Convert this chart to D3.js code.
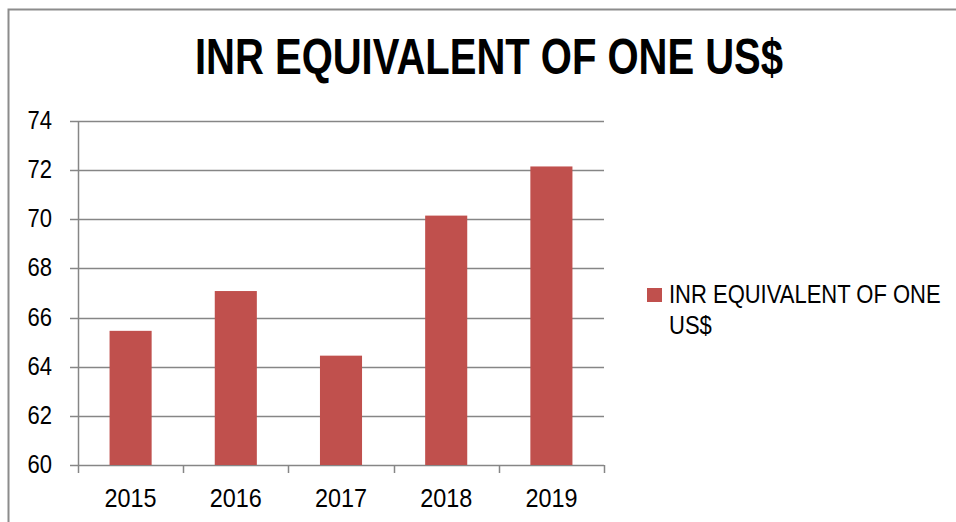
<!DOCTYPE html>
<html>
<head>
<meta charset="utf-8">
<script src="https://cdn.jsdelivr.net/npm/d3@7"></script>
<style>
  body { margin: 0; background: #fff; }
  text { font-family: "Liberation Sans Narrow", "Arial Narrow", "Liberation Sans", sans-serif; fill: #000; }
</style>
</head>
<body>
<div id="chart"></div>
<script>
var years = ["2015", "2016", "2017", "2018", "2019"];
var inrPerUsd = [65.46, 67.08, 64.45, 70.15, 72.15];
var yTicks = [60, 62, 64, 66, 68, 70, 72, 74];
var seriesName = "INR EQUIVALENT OF ONE US$";
var legendLines = ["INR EQUIVALENT OF ONE", "US$"];

var W = 956, H = 522;
var margin = { top: 121, left: 78, right: 352, bottom: 57 };
var width = W - margin.left - margin.right,
    height = H - margin.top - margin.bottom;

var svg = d3.select("#chart").append("svg")
  .attr("width", W).attr("height", H);

// narrow look: squeeze the text horizontally
function narrowText(parent, x, y, sx, size, anchor, str, bold) {
  var t = parent.append("g")
    .attr("transform", "translate(" + x + "," + y + ") scale(" + sx + ",1)")
    .append("text")
    .attr("text-anchor", anchor || "start")
    .style("font-size", size + "px")
    .text(str);
  if (bold) t.style("font-weight", "bold");
  return t;
}

// outer chart frame
svg.append("rect")
  .attr("x", 8.5).attr("y", 9.5)
  .attr("width", W + 20).attr("height", H + 20)
  .attr("fill", "none").attr("stroke", "#8c8c8c").attr("stroke-width", 2);

narrowText(svg, 489, 74, 0.8, 50, "middle", seriesName, true);

var g = svg.append("g")
  .attr("transform", "translate(" + margin.left + "," + margin.top + ")");

var x = d3.scaleBand().domain(years).range([0, width]).paddingInner(0.6).paddingOuter(0.3);
var xb = d3.scaleBand().domain(years).range([0, width]);
var y = d3.scaleLinear().domain([60, 74]).range([height, 0]);

// gridlines
g.selectAll(".grid").data(yTicks).enter().append("line")
  .attr("x1", -8).attr("x2", width)
  .attr("y1", function(d) { return Math.round(y(d)) + 0.5; })
  .attr("y2", function(d) { return Math.round(y(d)) + 0.5; })
  .attr("stroke", "#868686").attr("stroke-width", 1.5);

// bars
g.selectAll(".bar").data(inrPerUsd).enter().append("rect")
  .attr("x", function(d, i) { return x(years[i]); })
  .attr("width", x.bandwidth())
  .attr("y", function(d) { return y(d); })
  .attr("height", function(d) { return height - y(d); })
  .attr("fill", "#c0504d");

// y axis line
g.append("line").attr("x1", 0.5).attr("x2", 0.5).attr("y1", 0).attr("y2", height)
  .attr("stroke", "#868686").attr("stroke-width", 1.5);

// x axis ticks at band boundaries
var bounds = years.map(function(d) { return xb(d); }).concat([width]);
g.selectAll(".xt").data(bounds).enter().append("line")
  .attr("x1", function(d) { return Math.round(d) + 0.5; })
  .attr("x2", function(d) { return Math.round(d) + 0.5; })
  .attr("y1", height).attr("y2", height + 8)
  .attr("stroke", "#868686").attr("stroke-width", 1.5);

yTicks.forEach(function(d) {
  narrowText(g, -26, y(d) + 8, 0.88, 25, "end", d);
});

years.forEach(function(d) {
  narrowText(g, xb(d) + xb.bandwidth() / 2, height + 42, 0.9, 26, "middle", d);
});

// legend
var leg = svg.append("g").attr("transform", "translate(647,288)");
leg.append("rect").attr("width", 15).attr("height", 14).attr("fill", "#c0504d");
legendLines.forEach(function(s, i) {
  narrowText(leg, 22, 15 + i * 31, 0.88, 25, "start", s);
});
</script>
</body>
</html>
